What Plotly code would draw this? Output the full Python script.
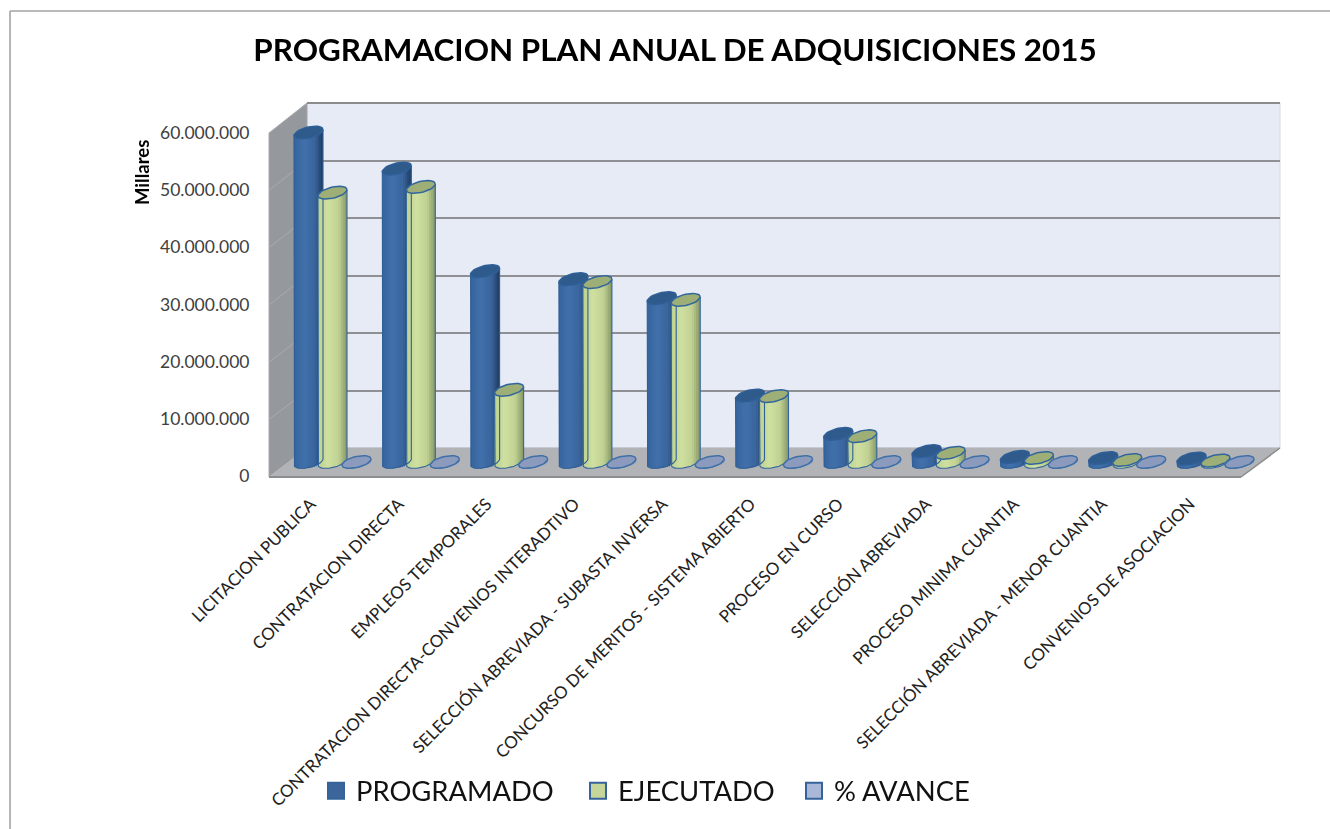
import math
import plotly.graph_objects as go

CATEGORIES = ["LICITACION PUBLICA", "CONTRATACION DIRECTA", "EMPLEOS TEMPORALES",
              "CONTRATACION DIRECTA-CONVENIOS INTERADTIVO", "SELECCIÓN ABREVIADA - SUBASTA INVERSA",
              "CONCURSO DE MERITOS - SISTEMA ABIERTO", "PROCESO EN CURSO", "SELECCIÓN ABREVIADA",
              "PROCESO MINIMA CUANTIA", "SELECCIÓN ABREVIADA - MENOR CUANTIA", "CONVENIOS DE ASOCIACION"]
PROGRAMADO = [57500000, 51200000, 33300000, 31900000, 28600000, 11600000, 4900000, 1900000, 900000, 700000, 600000]
EJECUTADO = [47000000, 48000000, 12600000, 31400000, 28300000, 11500000, 4500000, 1600000, 700000, 350000, 250000]
AVANCE = [0.8, 0.9, 0.4, 1.0, 1.0, 1.0, 0.9, 0.8, 0.8, 0.5, 0.4]
TICK_VALUES = [0, 10000000, 20000000, 30000000, 40000000, 50000000, 60000000]
TICK_LABELS = ["0", "10.000.000", "20.000.000", "30.000.000", "40.000.000", "50.000.000", "60.000.000"]

W, H = 1330, 829
FONT = "Lato"
def px(x): return x / W
def py(y): return 1 - y / H

# pixel calibration of the bar axes
CAT_STEP = 88.3
CAT0 = 332.5
M_PX = 5.73e-6          # pixels per unit
BASE_Y = 462
BAR_W = 29.0 / CAT_STEP
HALF = BAR_W / 2
SERIES_OFF = 24.0 / CAT_STEP
ELL_B = 5.6 / M_PX
ELL_S = 3.0 / M_PX
N_STRIPS = 14

def hex2rgb(c): return tuple(int(c[i:i + 2], 16) for i in (1, 3, 5))
def ramp(stops, t):
    for (t0, c0), (t1, c1) in zip(stops, stops[1:]):
        if t <= t1:
            f = (t - t0) / (t1 - t0)
            a, b = hex2rgb(c0), hex2rgb(c1)
            return "rgb(%d,%d,%d)" % tuple(round(a[i] + (b[i] - a[i]) * f) for i in range(3))
    return stops[-1][1]

SERIES = [
    dict(name="PROGRAMADO", values=PROGRAMADO, off=-SERIES_OFF, cap="#2f5a8c", line="#2f5f97", swatch="#3c659b",
         stops=[(0, "#36649d"), (0.35, "#4170ab"), (0.72, "#3a659c"), (1, "#1f3a5f")], legend="legend", lx=316),
    dict(name="EJECUTADO", values=EJECUTADO, off=0.0, cap="#9dae76", line="#32659c", swatch="#c6d69a",
         stops=[(0, "#bdd18f"), (0.35, "#cfe0a1"), (0.72, "#bfd092"), (1, "#859666")], legend="legend2", lx=578),
    dict(name="% AVANCE", values=AVANCE, off=SERIES_OFF, cap="#8c9bbd", line="#3f70a8", swatch="#a9b8d8",
         stops=[(0, "#a4b3d4"), (0.5, "#b2c0de"), (1, "#7c8cb0")], legend="legend3", lx=794),
]

fig = go.Figure()

# back wall gridlines (xy), tick labels (x2y2), bars (x3y3)
fig.add_trace(go.Scatter(x=[0], y=[0], xaxis="x", yaxis="y", mode="markers", opacity=0,
                         showlegend=False, hoverinfo="skip"))
fig.add_trace(go.Scatter(x=CATEGORIES, y=PROGRAMADO, xaxis="x2", yaxis="y2", mode="markers", opacity=0,
                         showlegend=False, hoverinfo="skip"))

positions = list(range(len(CATEGORIES)))
step = BAR_W / N_STRIPS
for s in SERIES:
    for j in range(N_STRIPS):
        t = (j + 0.5) / N_STRIPS
        u = 2 * t - 1
        sag = math.sqrt(max(0, 1 - u * u))
        base = ELL_S * u - ELL_B * sag
        fig.add_trace(go.Bar(
            x=positions, y=[v + ELL_B * sag for v in s["values"]], base=base,
            xaxis="x3", yaxis="y3", width=min(step * 2, HALF - (HALF * u - step / 2)),
            offset=s["off"] + HALF * u - step / 2,
            marker=dict(color=ramp(s["stops"], t), line=dict(width=0)),
            showlegend=False, hoverinfo="skip"))

STEPS = 36
for s in SERIES:
    ox, oy = [], []
    cx, cy = [], []
    for i, v in zip(positions, s["values"]):
        c = i + s["off"]
        ox += [c - HALF, ]
        oy += [v - ELL_S]
        for k in range(STEPS + 1):
            a = math.pi + math.pi * k / STEPS
            ox.append(c + HALF * math.cos(a))
            oy.append(ELL_S * math.cos(a) + ELL_B * math.sin(a))
        ox += [c + HALF, None]
        oy += [v + ELL_S, None]
        for k in range(STEPS + 1):
            a = 2 * math.pi * k / STEPS
            cx.append(c + HALF * math.cos(a))
            cy.append(v + ELL_S * math.cos(a) + ELL_B * math.sin(a))
        cx.append(None)
        cy.append(None)
    fig.add_trace(go.Scatter(x=ox, y=oy, xaxis="x3", yaxis="y3", mode="lines",
                             line=dict(color=s["line"], width=1.1), showlegend=False, hoverinfo="skip"))
    fig.add_trace(go.Scatter(x=cx, y=cy, xaxis="x3", yaxis="y3", mode="lines", fill="toself",
                             fillcolor=s["cap"], line=dict(color=s["line"], width=1.5),
                             showlegend=False, hoverinfo="skip"))

for s in SERIES:
    fig.add_trace(go.Scatter(x=[None], y=[None], xaxis="x3", yaxis="y3", mode="markers", name=s["name"],
                             legend=s["legend"],
                             marker=dict(symbol="square", size=16, color=s["swatch"],
                                         line=dict(color="#35639a", width=2))))

def poly(points):
    return "M " + " L ".join("%.5f %.5f" % (px(a), py(b)) for a, b in points) + " Z"

FX0, FX1, BX0, BX1 = 269, 1241, 307, 1280
FY0, FY60, BY0, BY60 = 477, 133, 448, 103
LABEL_X0, LABEL_X1 = 267, 1234
shapes = [
    dict(type="path", xref="paper", yref="paper", layer="below", path=poly([(BX0, BY60), (BX1, BY60), (BX1, BY0), (BX0, BY0)]),
         fillcolor="#e6ebf6", line=dict(color="#d8dadf", width=1)),
    dict(type="path", xref="paper", yref="paper", layer="below", path=poly([(FX0, FY60), (BX0, BY60), (BX0, BY0), (FX0, FY0)]),
         fillcolor="#95989c", line=dict(color="#a8a9ac", width=1)),
    dict(type="path", xref="paper", yref="paper", layer="below", path=poly([(FX0, FY0), (FX1, FY0), (BX1, BY0), (BX0, BY0)]),
         fillcolor="#b1b3b7", line=dict(color="#b1b3b7", width=1)),
    dict(type="line", xref="paper", yref="paper", layer="below", x0=px(FX0), x1=px(FX1), y0=py(FY0), y1=py(FY0),
         line=dict(color="#8c8d8f", width=2)),
    dict(type="line", xref="paper", yref="paper", layer="below", x0=px(FX1), x1=px(BX1), y0=py(FY0), y1=py(BY0),
         line=dict(color="#8c8d8f", width=1.5)),
    dict(type="line", xref="paper", yref="paper", layer="below", x0=px(BX0), x1=px(BX1), y0=py(BY60), y1=py(BY60),
         line=dict(color="#8a8b8d", width=2)),
    dict(type="line", xref="paper", yref="paper", layer="below", x0=px(10), x1=1, y0=py(11), y1=py(11),
         line=dict(color="#a3a3a3", width=1.6)),
    dict(type="line", xref="paper", yref="paper", layer="below", x0=px(10), x1=px(10), y0=py(11), y1=0,
         line=dict(color="#a3a3a3", width=1.6)),
]
for k in range(1, 6):
    fy = FY0 + (FY60 - FY0) * k / 6
    by = BY0 + (BY60 - BY0) * k / 6
    shapes.append(dict(type="line", xref="paper", yref="paper", layer="below", x0=px(FX0), x1=px(BX0),
                       y0=py(fy), y1=py(by), line=dict(color="#aaabae", width=1)))

def legend_at(x):
    return dict(orientation="h", x=x / W, xanchor="left", y=py(791), yanchor="middle", itemsizing="trace",
                font=dict(family=FONT, size=27.4, color="#111111"), bgcolor="rgba(0,0,0,0)")

fig.update_layout(
    width=W, height=H, margin=dict(l=0, r=0, t=0, b=0), autosize=False,
    paper_bgcolor="white", plot_bgcolor="rgba(0,0,0,0)", barmode="overlay", shapes=shapes,
    font=dict(family=FONT, color="#222222"),
    title=dict(text="PROGRAMACION PLAN ANUAL DE ADQUISICIONES 2015", x=675 / W, xanchor="center",
               y=py(50), yanchor="middle", font=dict(family=FONT, size=31.4, color="black", weight="bold")),
    xaxis=dict(domain=[px(BX0), px(BX1)], range=[0, 1], visible=False, anchor="y"),
    yaxis=dict(domain=[py(BY0), py(BY60)], range=[0, 60000000], anchor="x", showticklabels=False, ticks="",
               tickvals=TICK_VALUES, showgrid=True, gridcolor="#8f9093", gridwidth=1.6, zeroline=False, showline=False),
    xaxis2=dict(domain=[px(LABEL_X0), px(LABEL_X1)], type="category", range=[-0.5, 10.5], anchor="y2", tickangle=-45,
                ticks="outside", ticklen=10.5,
                tickcolor="rgba(0,0,0,0)", tickfont=dict(family=FONT, size=17, color="#222222"), showgrid=False,
                zeroline=False, showline=False, automargin=False, categoryorder="array", categoryarray=CATEGORIES,
                tickmode="array", tickvals=CATEGORIES, ticktext=CATEGORIES),
    yaxis2=dict(domain=[py(476), py(133)], range=[0, 60000000], anchor="x2", tickmode="array", tickvals=TICK_VALUES,
                ticktext=TICK_LABELS, ticks="outside", ticklen=13, tickcolor="rgba(0,0,0,0)",
                tickfont=dict(family=FONT, size=17.5, color="#404040"), showgrid=False, zeroline=False, showline=False,
                automargin=False),
    xaxis3=dict(domain=[0, 1], range=[-CAT0 / CAT_STEP, (W - CAT0) / CAT_STEP], anchor="y3", visible=False),
    yaxis3=dict(domain=[0, 1], range=[(BASE_Y - H) / (M_PX), BASE_Y / M_PX], anchor="x3", visible=False),
    legend=legend_at(SERIES[0]["lx"]), legend2=legend_at(SERIES[1]["lx"]), legend3=legend_at(SERIES[2]["lx"]),
    annotations=[dict(text="<b>Millares</b>", xref="paper", yref="paper", x=px(142), y=py(173), textangle=-90,
                      xanchor="center", yanchor="middle", showarrow=False,
                      font=dict(family=FONT, size=18.5, color="black"))],
)

fig.write_html("out.html", config={"displayModeBar": False},
               post_script="document.body.style.margin='0';document.body.style.overflow='hidden';")
